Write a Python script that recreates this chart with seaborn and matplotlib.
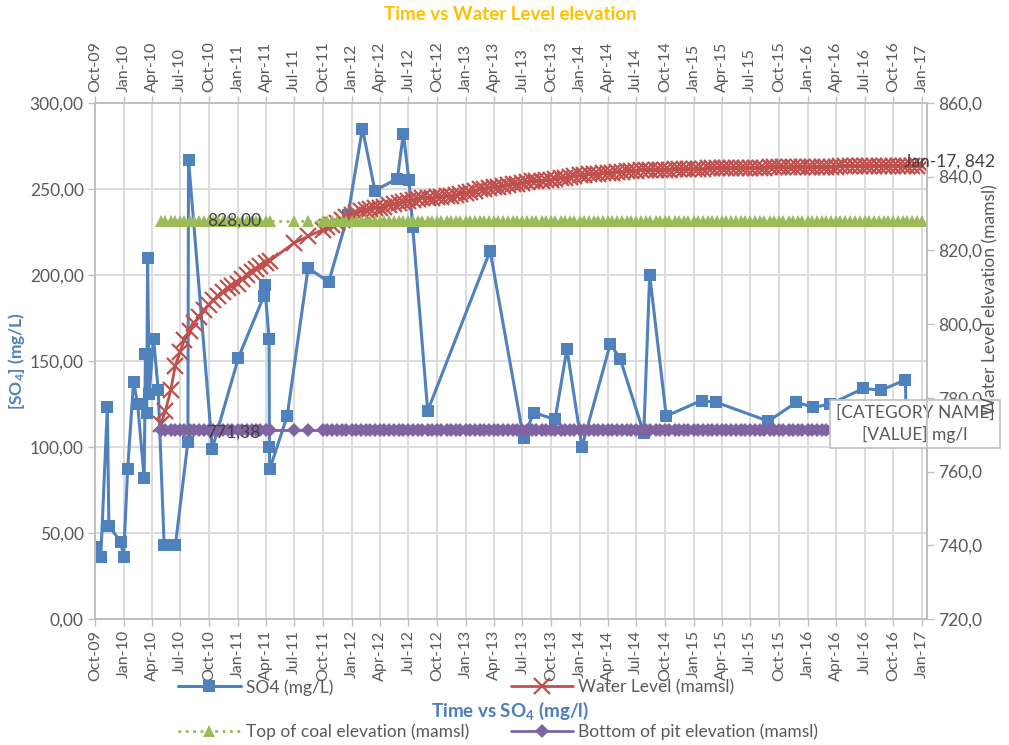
import pandas as pd
import matplotlib.pyplot as plt
import matplotlib.dates as mdates
from matplotlib.ticker import FuncFormatter, MultipleLocator
import seaborn as sns

# SO4 samples (mg/L)
so4_dates = [
    '2009-10-01', '2009-10-20', '2009-11-10', '2009-11-15', '2009-12-23', '2010-01-01',
    '2010-01-14', '2010-02-02', '2010-02-15', '2010-03-08', '2010-03-12', '2010-03-16',
    '2010-03-19', '2010-03-24', '2010-04-07', '2010-04-22', '2010-05-11', '2010-06-16',
    '2010-07-26', '2010-07-28', '2010-10-12', '2011-01-04', '2011-03-27', '2011-03-29',
    '2011-04-12', '2011-04-13', '2011-04-14', '2011-06-09', '2011-08-15', '2011-10-20',
    '2011-12-21', '2012-02-05', '2012-03-16', '2012-05-27', '2012-06-15', '2012-07-03',
    '2012-07-15', '2012-09-01', '2013-03-20', '2013-07-05', '2013-08-06', '2013-10-14',
    '2013-11-21', '2014-01-08', '2014-04-09', '2014-05-11', '2014-07-25', '2014-08-13',
    '2014-10-05', '2015-01-26', '2015-03-14', '2015-08-28', '2015-11-26', '2016-01-19',
    '2016-03-14', '2016-06-27', '2016-08-23', '2016-11-09', '2016-11-12',
]
so4_values = [
    42, 36, 123, 54, 45, 36,
    87, 138, 125, 82, 154, 120,
    210, 131, 163, 133, 43, 43,
    103, 267, 99, 152, 188, 194,
    163, 100, 87, 118, 204, 196,
    235, 285, 249, 256, 282, 255,
    228, 121, 214, 105, 120, 116,
    157, 100, 160, 151, 108, 200,
    118, 127, 126, 115, 126, 123,
    125, 134, 133, 139, 110,
]

# water level readings, twice a month, no readings mid 2011
no_reading = ['2011-05-01', '2011-05-15', '2011-06-01', '2011-06-15',
              '2011-07-15', '2011-08-01', '2011-09-01', '2011-09-15']
level_dates = pd.date_range('2010-05-01', '2017-01-01', freq='SMS')
level_dates = level_dates.difference(pd.to_datetime(no_reading))

water_level = [
    # 2010 (May-Dec)
    773.0, 776.5, 782.0, 788.5, 792.5, 795.8, 798.0, 800.2,
    802.0, 803.7, 805.2, 806.5, 807.6, 808.7, 809.7, 810.4,
    # 2011
    811.0, 812.2, 813.3, 814.2, 815.0, 815.8, 816.6, 817.2,
    822.0, 823.8, 825.6, 826.2, 826.8, 827.5, 828.2, 828.9,
    # 2012
    829.6, 830.2, 830.7, 831.0, 831.2, 831.4, 831.5, 831.8, 832.2, 832.5, 832.9, 833.2,
    833.4, 833.7, 833.9, 834.1, 834.2, 834.3, 834.4, 834.5, 834.6, 834.8, 835.0, 835.3,
    # 2013
    835.6, 835.9, 836.2, 836.5, 836.7, 837.0, 837.2, 837.3, 837.5, 837.7, 837.9, 838.1,
    838.3, 838.5, 838.7, 838.8, 838.9, 839.0, 839.1, 839.3, 839.5, 839.7, 839.9, 840.1,
    # 2014
    840.3, 840.4, 840.6, 840.7, 840.8, 840.9, 841.0, 841.1, 841.2, 841.3, 841.4, 841.5,
    841.6, 841.7, 841.7, 841.8, 841.8, 841.9, 841.9, 841.9, 842.0, 842.0, 842.0, 842.1,
    # 2015
    842.1, 842.1, 842.1, 842.2, 842.2, 842.2, 842.2, 842.3, 842.3, 842.3, 842.3, 842.3,
    842.4, 842.4, 842.4, 842.4, 842.5, 842.5, 842.5, 842.5, 842.5, 842.6, 842.6, 842.6,
    # 2016
    842.6, 842.6, 842.7, 842.7, 842.7, 842.7, 842.7, 842.8, 842.8, 842.8, 842.8, 842.8,
    842.8, 842.9, 842.9, 842.9, 842.9, 842.9, 842.9, 843.0, 843.0, 843.0, 843.0, 843.0,
    # 2017
    843.0,
]
coal_top = 828.00
pit_bottom = 771.38

so4 = pd.DataFrame({'date': pd.to_datetime(so4_dates), 'so4': so4_values})
lvl = pd.DataFrame({'date': level_dates, 'water': water_level})
lvl['coal'] = coal_top
lvl['pit'] = pit_bottom

sns.set_theme(style='white')
plt.rcParams['font.family'] = ['Lato', 'DejaVu Sans']
plt.rcParams['mathtext.default'] = 'regular'

grey = '#595959'
edge = '#BFBFBF'
blue = '#4F81BD'
red = '#C0504D'
green = '#9BBB59'
purple = '#8064A2'

fig = plt.figure(figsize=(10.09, 7.45), dpi=100)
ax = fig.add_axes([0.094, 0.169, 0.825, 0.693])
ax2 = ax.twinx()

sns.lineplot(data=so4, x='date', y='so4', ax=ax, estimator=None, sort=False,
             color=blue, marker='s', markersize=8, markeredgewidth=0, markeredgecolor=blue,
             linewidth=2.2, label='SO4 (mg/L)', legend=False)
sns.lineplot(data=lvl, x='date', y='water', ax=ax2, estimator=None, sort=False,
             color=red, marker='x', markersize=11, markeredgewidth=1.6, markeredgecolor=red,
             linewidth=2, label='Water Level (mamsl)', legend=False)
sns.lineplot(data=lvl, x='date', y='coal', ax=ax2, estimator=None, sort=False,
             color=green, marker='^', markersize=8, markeredgewidth=0, markeredgecolor=green,
             linewidth=2, linestyle=':', label='Top of coal elevation (mamsl)', legend=False)
sns.lineplot(data=lvl, x='date', y='pit', ax=ax2, estimator=None, sort=False,
             color=purple, marker='D', markersize=7, markeredgewidth=0, markeredgecolor=purple,
             linewidth=2, label='Bottom of pit elevation (mamsl)', legend=False)

# axes
ax.set_xlim(pd.Timestamp('2009-10-01'), pd.Timestamp('2017-01-18'))
ax.set_ylim(0, 300)
ax2.set_ylim(720, 860)
ax.yaxis.set_major_locator(MultipleLocator(50))
ax2.yaxis.set_major_locator(MultipleLocator(20))
ax.yaxis.set_major_formatter(FuncFormatter(lambda v, _: f'{v:.2f}'.replace('.', ',')))
ax2.yaxis.set_major_formatter(FuncFormatter(lambda v, _: f'{v:.1f}'.replace('.', ',')))
ax.xaxis.set_major_locator(mdates.MonthLocator(bymonth=[1, 4, 7, 10]))
ax.xaxis.set_major_formatter(mdates.DateFormatter('%b-%y'))

ax.grid(True, color='#D9D9D9', linewidth=1.3)
ax2.grid(False)
ax.tick_params(axis='x', labelrotation=90, top=True, labeltop=True, bottom=True,
               length=5, width=1, color=edge, labelcolor=grey, labelsize=11.5, pad=3)
ax.tick_params(axis='y', length=5, width=1, color=edge, labelcolor=grey, labelsize=12.5, pad=3)
ax2.tick_params(axis='y', length=5, width=1, color=edge, labelcolor=grey, labelsize=12.5, pad=3)
for a in (ax, ax2):
    for s in a.spines.values():
        s.set_color(edge)
        s.set_linewidth(1.2)

ax.set_xlabel('')
ax.set_ylabel('[SO$_4$] (mg/L)', color=blue, fontsize=12.5, fontweight='bold', labelpad=2)
ax2.set_ylabel('')
fig.text(990 / 1009, 1 - 300 / 745, 'Water Level elevation (mamsl)', rotation=90,
         ha='center', va='center', color=grey, fontsize=12.5)

# data labels
ax2.annotate('828,00', xy=(pd.Timestamp('2010-12-20'), coal_top), ha='center', va='center',
             color='#404040', fontsize=12.5)
ax2.annotate('771,38', xy=(pd.Timestamp('2010-12-20'), pit_bottom), xytext=(0, -2),
             textcoords='offset points', ha='center', va='center', color='#404040', fontsize=12.5)
ax2.annotate('Jan-17, 842', xy=(lvl['date'].iloc[-1], water_level[-1]), xytext=(20, 3),
             textcoords='offset points', ha='center', va='center', color='#404040',
             fontsize=12.5, annotation_clip=False)
ax2.text(915 / 1009, 1 - 424 / 745, '[CATEGORY NAME]\n[VALUE] mg/l',
         transform=fig.transFigure, ha='center', va='center', color=grey,
         fontsize=12.5, linespacing=1.35, zorder=2.4, clip_on=False,
         bbox=dict(boxstyle='square,pad=0.3', fc='white', ec=edge, lw=1.2))

# titles
fig.text(510 / 1009, 1 - 15 / 745, 'Time vs Water Level elevation', ha='center', va='center',
         color='#FFC000', fontsize=13.5, fontweight='bold')
fig.text(510 / 1009, 1 - 711 / 745, 'Time vs SO$_4$ (mg/l)', ha='center', va='center',
         color='#4A7EBB', fontsize=13.5, fontweight='bold')

h1, l1 = ax.get_legend_handles_labels()
h2, l2 = ax2.get_legend_handles_labels()
handles = [h1[0], h2[1], h2[0], h2[2]]
labels = [l1[0], l2[1], l2[0], l2[2]]
fig.legend(handles, labels, ncol=2, loc='upper left', bbox_to_anchor=(178 / 1009, 1 - 679 / 745),
           frameon=False, fontsize=12.5, labelcolor=grey, handlelength=3.6, handletextpad=0.3,
           columnspacing=2.4, labelspacing=1.62, borderpad=0, borderaxespad=0)

fig.savefig('out.png', dpi=100)
